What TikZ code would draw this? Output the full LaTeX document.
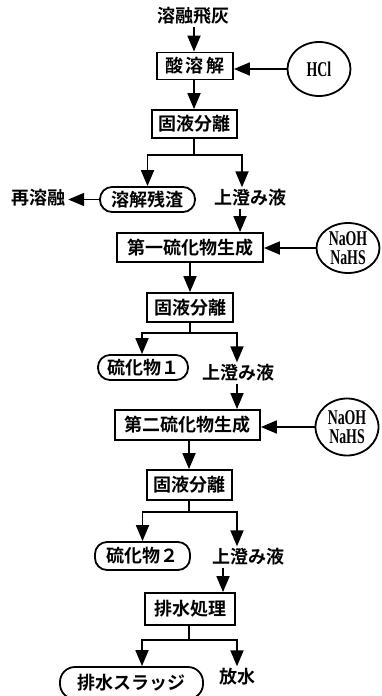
\documentclass[tikz,border=0pt]{standalone}
\usepackage{fontspec}
\setmainfont{Noto Sans CJK JP}[BoldFont={Noto Sans CJK JP Bold}]
\newfontfamily\latinf[FakeStretch=0.66]{Liberation Serif Bold}
\usetikzlibrary{arrows.meta,shapes.geometric}
\tikzset{
  cjk/.style={font=\bfseries\fontsize{18}{18}\selectfont},
  lbl/.style={cjk, inner sep=2pt},
  box/.style={draw, line width=1.8pt, inner sep=0pt, cjk},
  stad/.style={draw, line width=1.8pt, rounded corners=12pt, inner sep=0pt, cjk},
  oval/.style={draw, ellipse, line width=1.8pt, inner sep=0pt, align=center,
    font=\latinf\fontsize{21}{19}\selectfont},
  arr/.style={-{Triangle[length=16pt,width=13pt]}, line width=1.8pt},
  ln/.style={line width=1.8pt}
}
\begin{document}
\begin{tikzpicture}[x=1pt,y=-1pt]
\useasboundingbox (0,0) rectangle (382,696);
% nodes
\node[lbl] (feed) at (193,16) {溶融飛灰};
\node[box, minimum width=76pt, minimum height=27pt] (acid) at (195,66) {酸\,溶\,解};
\node[oval, minimum width=63pt, minimum height=54pt] (hcl) at (319,69) {HCl};
\node[box, minimum width=85pt, minimum height=28pt] (sep1) at (194.5,124) {固液分離};
\node[stad, minimum width=95pt, minimum height=25pt] (res) at (147.5,199.5) {溶解残渣};
\node[lbl] (remelt) at (39,198) {再溶融};
\node[lbl] (sup1) at (250,198) {上澄み液};
\node[box, minimum width=146pt, minimum height=29pt] (sulf1) at (190,247.5) {第一硫化物生成};
\node[oval, minimum width=63pt, minimum height=50pt] (na1) at (348,248) {NaOH\\NaHS};
\node[box, minimum width=86pt, minimum height=29pt] (sep2) at (190,307.5) {固液分離};
\node[stad, minimum width=90pt, minimum height=25pt] (s1) at (143,367.5) {硫化物１};
\node[lbl] (sup2) at (238,373) {上澄み液};
\node[box, minimum width=145pt, minimum height=30pt] (sulf2) at (187.5,425) {第二硫化物生成};
\node[oval, minimum width=63pt, minimum height=57pt] (na2) at (347,427) {NaOH\\NaHS};
\node[box, minimum width=85pt, minimum height=30pt] (sep3) at (189.5,485) {固液分離};
\node[stad, minimum width=95pt, minimum height=28pt] (s2) at (142.5,556) {硫化物２};
\node[lbl] (sup3) at (248,557) {上澄み液};
\node[box, minimum width=90pt, minimum height=32pt] (wt) at (190,609) {排水処理};
\node[stad, minimum width=143pt, minimum height=32pt, rounded corners=15pt] (sludge) at (131.5,683) {排水スラッジ};
\node[lbl] (dis) at (237,677) {放水};
% branch points
\coordinate (b1) at (194,155);
\coordinate (b2) at (190,333);
\coordinate (b3) at (189,512);
\coordinate (b4) at (189,640);
% connectors
\draw[arr] (feed.south -| 194,0) -- (acid.north -| 194,0);
\draw[arr] (hcl.west) -- (hcl.west -| acid.east);
\draw[arr] (acid.south -| 194,0) -- (sep1.north -| 194,0);
\draw[ln] (sep1.south -| b1) -- (b1);
\draw[arr] (b1) -| (res.north);
\draw[arr] (b1) -| ([xshift=-8pt]sup1.north);
\draw[arr] (res.west) -- (res.west -| remelt.east);
\draw[arr] ([xshift=-10pt]sup1.south) -- ([xshift=-10pt]sup1.south |- sulf1.north);
\draw[arr] (na1.west) -- (na1.west -| sulf1.east);
\draw[arr] (sulf1.south -| b2) -- (sep2.north -| b2);
\draw[ln] (sep2.south -| b2) -- (b2);
\draw[arr] (b2) -| ([xshift=-1pt]s1.north);
\draw[arr] (b2) -| ([xshift=-1pt]sup2.north);
\draw[arr] ([xshift=-1pt]sup2.south) -- ([xshift=-1pt]sup2.south |- sulf2.north);
\draw[arr] (na2.west) -- (na2.west -| sulf2.east);
\draw[arr] (sulf2.south -| b3) -- (sep3.north -| b3);
\draw[ln] (sep3.south -| b3) -- (b3);
\draw[arr] (b3) -| (s2.north);
\draw[arr] (b3) -| ([xshift=-11pt]sup3.north);
\draw[arr] ([xshift=-25pt]sup3.south) -- ([xshift=-25pt]sup3.south |- wt.north);
\draw[ln] (wt.south -| b4) -- (b4);
\draw[arr] (b4) -| ([xshift=10.5pt]sludge.north);
\draw[arr] (b4) -| (dis.north);
\end{tikzpicture}
\end{document}
